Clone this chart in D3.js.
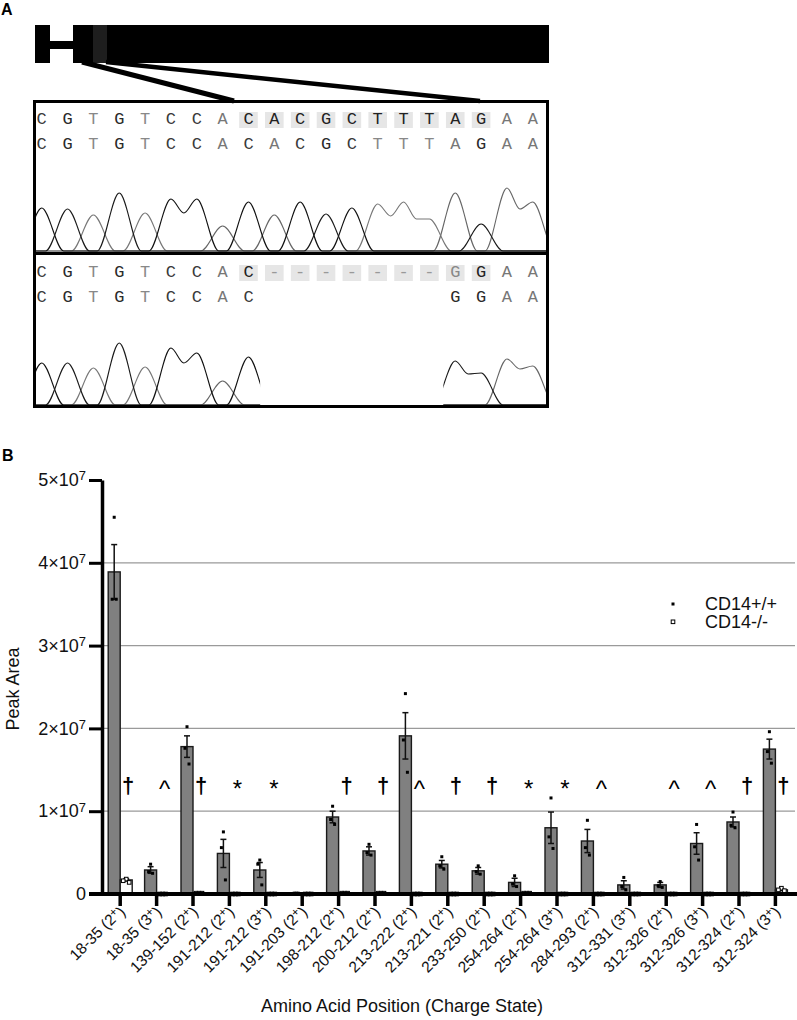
<!DOCTYPE html>
<html>
<head>
<meta charset="utf-8">
<script src="https://cdn.jsdelivr.net/npm/d3@7"></script>
<style>
  body { margin: 0; background: #fff; }
  svg { display: block; font-family: "Liberation Sans", Arial, sans-serif; opacity: 0.999; }
</style>
</head>
<body>
<script>
// ---------- panel A data ----------
const topRef = "CGTGTCCACACGCTTTAGAA".split("");
const topRead = "CGTGTCCACACGCTTTAGAA".split("");
const botRef = "CGTGTCCAC-------GGAA".split("");
const botRead = "CGTGTCCAC       GGAA".split("");
const highlighted = [8, 9, 10, 11, 12, 13, 14, 15, 16, 17];
// chromatogram peak intensity per base (relative units), null = no signal
const topPeaks = [43, 42, 36, 58, 38, 52, 52, 25, 49, 36, 49, 37, 43, 47, 49, 32, 58, 27, 63, 49];
const topDips = { 5: 38, 13: 35, 14: 32, 18: 42 };
const botPeaks = [42, 42, 37, 62, 38, 57, 52, 24, 48, null, null, null, null, null, null, null, 44, 32, 46, 39];
const botDips = { 5: 42, 16: 31, 18: 36 };

// ---------- panel B data (x10^7) ----------
const categories = ["18-35 (2+)", "18-35 (3+)", "139-152 (2+)", "191-212 (2+)", "191-212 (3+)",
  "191-203 (2+)", "198-212 (2+)", "200-212 (2+)", "213-222 (2+)", "213-221 (2+)", "233-250 (2+)",
  "254-264 (2+)", "254-264 (3+)", "284-293 (2+)", "312-331 (3+)", "312-326 (2+)", "312-326 (3+)",
  "312-324 (2+)", "312-324 (3+)"];
const wtMean = [3.89, 0.29, 1.78, 0.49, 0.29, 0.01, 0.93, 0.52, 1.91, 0.36, 0.28, 0.14, 0.80, 0.64, 0.11, 0.11, 0.61, 0.87, 1.75];
const wtSem = [0.33, 0.04, 0.13, 0.17, 0.09, 0.0, 0.07, 0.05, 0.28, 0.045, 0.04, 0.05, 0.19, 0.14, 0.05, 0.03, 0.13, 0.06, 0.12];
const wtPoints = [[4.55, 3.56, 3.56], [0.36, 0.27, 0.25], [2.02, 1.76, 1.57], [0.75, 0.56, 0.17],
  [0.41, 0.36, 0.11], [0.01, 0.01, 0.01], [1.06, 0.90, 0.84], [0.60, 0.50, 0.47], [2.42, 1.86, 1.47],
  [0.45, 0.34, 0.30], [0.34, 0.27, 0.24], [0.22, 0.12, 0.09], [1.16, 0.69, 0.55], [0.89, 0.56, 0.47],
  [0.20, 0.09, 0.05], [0.15, 0.10, 0.08], [0.84, 0.57, 0.41], [0.99, 0.83, 0.80], [1.96, 1.72, 1.58]];
const koMean = [0.17, 0.005, 0.01, 0.005, 0.005, 0, 0.01, 0.01, 0.005, 0.005, 0.005, 0.01, 0.005, 0.005, 0.005, 0.005, 0.01, 0.005, 0.05];
const koSem = [0.012, 0, 0, 0, 0, 0, 0, 0, 0, 0, 0, 0, 0, 0, 0, 0, 0, 0, 0.01];
const koPoints = [[0.18, 0.16, 0.14], [0, 0, 0], [0.01, 0.01, 0.01], [0, 0, 0], [0, 0, 0], [0, 0, 0],
  [0.01, 0.01, 0.01], [0.01, 0.01, 0.01], [0, 0, 0], [0, 0, 0], [0, 0, 0], [0.01, 0.01, 0.01], [0, 0, 0],
  [0, 0, 0], [0, 0, 0], [0, 0, 0], [0, 0, 0], [0, 0, 0], [0.07, 0.05, 0.04]];
const signif = ["†", "^", "†", "*", "*", "", "†", "†", "^", "†", "†", "*", "*", "^", "", "^", "^", "†", "†"];
const yTicks = [0, 1, 2, 3, 4, 5];
const gridTicks = [1, 2, 3, 4];
const seriesNames = ["CD14+/+", "CD14-/-"];

const svg = d3.select("body").append("svg").attr("width", 797).attr("height", 1020);

// ================= PANEL A =================
svg.append("text").attr("x", 1).attr("y", 15).attr("font-weight", "bold").attr("font-size", 16).text("A");

// gene schematic
let gene = svg.append("g");
gene.append("rect").attr("x", 35).attr("y", 25).attr("width", 15).attr("height", 38).attr("fill", "#000");
gene.append("rect").attr("x", 50).attr("y", 41).attr("width", 23).attr("height", 8).attr("fill", "#000");
gene.append("rect").attr("x", 73).attr("y", 25).attr("width", 476).attr("height", 38).attr("fill", "#000");
gene.append("rect").attr("x", 93).attr("y", 25).attr("width", 14).attr("height", 38).attr("fill", "#1e1e1e");
gene.append("line").attr("x1", 82).attr("y1", 62).attr("x2", 234).attr("y2", 101)
  .attr("stroke", "#000").attr("stroke-width", 5);
gene.append("line").attr("x1", 106).attr("y1", 62).attr("x2", 480).attr("y2", 101)
  .attr("stroke", "#000").attr("stroke-width", 4.5);

const xBase = d3.scaleLinear().domain([0, 19]).range([41.7, 532.8]);
const hScale = d3.scaleLinear().domain([0, 70]).range([0, 70]);
const channelColor = { C: "#111", G: "#1a1a1a", A: "#666", T: "#777" };
const letterColor = { C: "#3a3a3a", G: "#2a2a2a", A: "#777", T: "#888", "-": "#999", " ": "#fff" };

function drawSeqPanel(refSeq, readSeq, peaks, dips, top, baseline, clipId, windows) {
  let g = svg.append("g");
  // highlight boxes
  g.selectAll("rect.hl").data(highlighted).enter().append("rect")
    .attr("x", d => xBase(d) - 9.3).attr("y", top + 11).attr("width", 18.6).attr("height", 16)
    .attr("fill", "#e6e6e6");
  g.selectAll("text.ref").data(refSeq).enter().append("text")
    .attr("x", (d, i) => xBase(i)).attr("y", top + 23)
    .attr("text-anchor", "middle").attr("font-family", "'Liberation Mono', monospace")
    .attr("font-size", 17)
    .attr("fill", (d, i) => highlighted.includes(i) && d !== "-" ? (d === "G" && i === 16 ? "#888" : "#222") : letterColor[d])
    .text(d => d);
  g.selectAll("text.read").data(readSeq).enter().append("text")
    .attr("x", (d, i) => xBase(i)).attr("y", top + 47.5)
    .attr("text-anchor", "middle").attr("font-family", "'Liberation Mono', monospace")
    .attr("font-size", 17).attr("fill", d => letterColor[d])
    .text(d => d.trim());

  // clip for traces
  let cp = svg.append("clipPath").attr("id", clipId);
  windows.forEach(w => cp.append("rect").attr("x", w[0]).attr("y", top).attr("width", w[1] - w[0]).attr("height", baseline - top + 2));

  const line = d3.line()
    .x(p => xBase(p[0]))
    .y(p => baseline - hScale(p[1]))
    .curve(d3.curveMonotoneX);
  const hw = 0.85;
  ["A", "T", "C", "G"].forEach(ch => {
    let pts = [[-1, 0]];
    for (let i = 0; i < readSeq.length; i++) {
      if (readSeq[i] !== ch || peaks[i] == null) continue;
      let prevSame = i > 0 && readSeq[i - 1] === ch && peaks[i - 1] != null;
      let nextSame = i < readSeq.length - 1 && readSeq[i + 1] === ch && peaks[i + 1] != null;
      if (prevSame) pts.push([i - 0.5, dips[i - 1]]);
      else pts.push([i - hw, 0]);
      pts.push([i, peaks[i]]);
      if (!nextSame) pts.push([i + hw, 0]);
    }
    pts.push([20, 0]);
    g.append("path").attr("d", line(pts)).attr("fill", "none")
      .attr("stroke", channelColor[ch]).attr("stroke-width", 1.1)
      .attr("clip-path", "url(#" + clipId + ")");
  });
}

drawSeqPanel(topRef, topRead, topPeaks, topDips, 101, 251, "clipTop", [[35, 547]]);
drawSeqPanel(botRef, botRead, botPeaks, botDips, 254, 405, "clipBot",
  [[35, xBase(8.45)], [xBase(15.54), 547]]);

// outer box and divider
svg.append("rect").attr("x", 34.5).attr("y", 101.5).attr("width", 513).attr("height", 305)
  .attr("fill", "none").attr("stroke", "#000").attr("stroke-width", 3);
svg.append("line").attr("x1", 34).attr("x2", 548).attr("y1", 253.5).attr("y2", 253.5)
  .attr("stroke", "#000").attr("stroke-width", 3);

// ================= PANEL B =================
svg.append("text").attr("x", 2).attr("y", 461).attr("font-weight", "bold").attr("font-size", 16).text("B");

const x = d3.scaleBand().domain(categories).range([102, 793.6]).padding(0);
const y = d3.scaleLinear().domain([0, 5]).range([894, 480]);
const barW = 12;

// gridlines
svg.append("g").selectAll("line").data(gridTicks).enter().append("line")
  .attr("x1", 104).attr("x2", 795).attr("y1", d => y(d)).attr("y2", d => y(d))
  .attr("stroke", "#9a9a9a").attr("stroke-width", 1.3);

let bars = svg.append("g");
const cx = (i) => x(categories[i]) + x.bandwidth() / 2;

// CD14+/+ bars
bars.selectAll("rect.wt").data(wtMean).enter().append("rect")
  .attr("x", (d, i) => cx(i) - barW).attr("width", barW)
  .attr("y", d => y(d)).attr("height", d => y(0) - y(d))
  .attr("fill", "#808080").attr("stroke", "#1a1a1a").attr("stroke-width", 1.4);
// CD14-/- bars
bars.selectAll("rect.ko").data(koMean).enter().append("rect")
  .attr("x", (d, i) => cx(i)).attr("width", barW)
  .attr("y", d => y(d)).attr("height", d => y(0) - y(d))
  .attr("fill", "#fff").attr("stroke", "#1a1a1a").attr("stroke-width", 1.4);

function errorBars(means, sems, offset) {
  let g = svg.append("g").attr("stroke", "#111").attr("stroke-width", 1.5);
  means.forEach((m, i) => {
    if (!sems[i]) return;
    let bx = cx(i) + offset;
    g.append("line").attr("x1", bx).attr("x2", bx).attr("y1", y(m - sems[i])).attr("y2", y(m + sems[i]));
    [m - sems[i], m + sems[i]].forEach(v => {
      g.append("line").attr("x1", bx - 3).attr("x2", bx + 3).attr("y1", y(v)).attr("y2", y(v));
    });
  });
}
errorBars(wtMean, wtSem, -barW / 2);
errorBars(koMean, koSem, barW / 2);

const jitter = [0, -2, 2];
let pts = svg.append("g");
wtPoints.forEach((arr, i) => {
  pts.selectAll(null).data(arr).enter().append("rect")
    .attr("x", (d, j) => cx(i) - barW / 2 + jitter[j] - 1.5).attr("y", d => y(d) - 1.5)
    .attr("width", 3).attr("height", 3).attr("fill", "#000");
});
koPoints.forEach((arr, i) => {
  pts.selectAll(null).data(arr).enter().append("rect")
    .attr("x", (d, j) => cx(i) + barW / 2 + jitter[j] * 1.5 - 1.8).attr("y", d => y(d) - 1.8)
    .attr("width", 3.6).attr("height", 3.6).attr("fill", "#fff").attr("stroke", "#000").attr("stroke-width", 1);
});

// significance symbols
svg.append("g").selectAll("text").data(signif).enter().append("text")
  .attr("x", (d, i) => cx(i) + 8).attr("y", d => d === "†" ? 793 : 797)
  .attr("text-anchor", "middle").attr("fill", "#000")
  .attr("font-size", d => d === "†" ? 22 : 24)
  .attr("font-weight", d => d === "†" ? "bold" : "normal")
  .text(d => d);

// y axis
let yAxis = svg.append("g").attr("transform", "translate(102,0)")
  .call(d3.axisLeft(y).tickValues(yTicks).tickSize(13).tickSizeOuter(0).tickPadding(3));
yAxis.select(".domain").attr("stroke-width", 3.5).attr("stroke", "#000");
yAxis.selectAll(".tick line").attr("stroke-width", 3).attr("stroke", "#000");
yAxis.attr("font-family", null).attr("font-size", null);
yAxis.selectAll(".tick text").attr("font-size", 18).attr("fill", "#111").each(function (d) {
  let t = d3.select(this);
  t.text(null);
  if (d === 0) { t.text("0"); return; }
  t.append("tspan").text(d + "×10");
  t.append("tspan").attr("dy", "-0.45em").attr("font-size", "0.72em").text("7");
});

// x axis
svg.append("line").attr("x1", 89).attr("x2", 797).attr("y1", 894).attr("y2", 894)
  .attr("stroke", "#000").attr("stroke-width", 4);
let xAxis = svg.append("g").attr("transform", "translate(0,894)")
  .call(d3.axisBottom(x).tickSize(12).tickSizeOuter(0).tickFormat(""));
xAxis.select(".domain").remove();
xAxis.selectAll(".tick line").attr("stroke-width", 3.5).attr("stroke", "#000");

// rotated category labels
let labels = svg.append("g").selectAll("text").data(categories).enter().append("text")
  .attr("transform", d => "translate(" + (x(d) + x.bandwidth() / 2 + 5) + ",912) rotate(-45)")
  .attr("text-anchor", "end").attr("font-size", 15.5).attr("fill", "#111");
labels.each(function (d) {
  let t = d3.select(this);
  let m = d.match(/^(.*\()(\d)\+\)$/);
  t.append("tspan").text(m[1] + m[2]);
  t.append("tspan").attr("dy", "-0.4em").attr("font-size", "0.75em").text("+");
  t.append("tspan").attr("dy", "0.4em").text(")");
});

// axis titles
svg.append("text").attr("transform", "translate(19,689) rotate(-90)")
  .attr("text-anchor", "middle").attr("font-size", 18).attr("fill", "#111").text("Peak Area");
svg.append("text").attr("x", 402).attr("y", 1012)
  .attr("text-anchor", "middle").attr("font-size", 18).attr("fill", "#111").text("Amino Acid Position (Charge State)");

// legend
let legend = svg.append("g");
legend.append("rect").attr("x", 671.5).attr("y", 602.5).attr("width", 3).attr("height", 3).attr("fill", "#000");
legend.append("rect").attr("x", 671.2).attr("y", 620).attr("width", 3.6).attr("height", 3.6)
  .attr("fill", "#fff").attr("stroke", "#000").attr("stroke-width", 1);
legend.selectAll("text").data(seriesNames).enter().append("text")
  .attr("x", 705).attr("y", (d, i) => 610 + i * 18).attr("font-size", 18).attr("fill", "#111").text(d => d);
</script>
</body>
</html>
